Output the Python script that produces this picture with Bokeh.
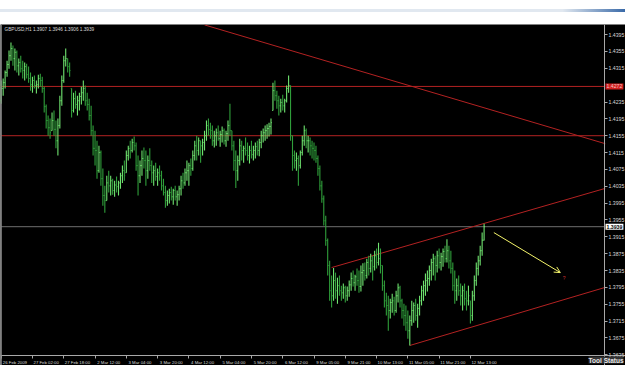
from bokeh.plotting import figure
from bokeh.models import (FixedTicker, Label, Arrow, OpenHead, Range1d, Div,
                          ColumnDataSource, Span, PrintfTickFormatter, LinearAxis)
from bokeh.layouts import column
from bokeh.embed import file_html
from bokeh.resources import INLINE

# ---------------- data (GBPUSD, H1) ----------------
SYMBOL_TEXT = "GBPUSD,H1  1.3907  1.3946  1.3906  1.3939"
FIRST_OPEN = 1.4238

high = [
    1.4286, 1.4291, 1.4310, 1.4333, 1.4357, 1.4376, 1.4369, 1.4362, 1.4357, 1.4338,
    1.4345, 1.4333, 1.4329, 1.4326, 1.4319, 1.4305, 1.4295, 1.4298, 1.4286, 1.4300,
    1.4302, 1.4295, 1.4271, 1.4229, 1.4203, 1.4196, 1.4210, 1.4215, 1.4191, 1.4196,
    1.4250, 1.4298, 1.4345, 1.4362, 1.4338, 1.4329, 1.4267, 1.4257, 1.4262, 1.4250,
    1.4257, 1.4271, 1.4286, 1.4274, 1.4257, 1.4243, 1.4226, 1.4179, 1.4167, 1.4143,
    1.4131, 1.4120, 1.4077, 1.4036, 1.4060, 1.4072, 1.4060, 1.4053, 1.4048, 1.4058,
    1.4048, 1.4067, 1.4084, 1.4096, 1.4120, 1.4131, 1.4143, 1.4148, 1.4153, 1.4139,
    1.4108, 1.4096, 1.4120, 1.4127, 1.4120, 1.4108, 1.4125, 1.4096, 1.4084, 1.4091,
    1.4077, 1.4084, 1.4072, 1.4053, 1.4036, 1.4025, 1.4029, 1.4034, 1.4029, 1.4036,
    1.4025, 1.4036, 1.4060, 1.4067, 1.4077, 1.4096, 1.4091, 1.4101, 1.4120, 1.4143,
    1.4155, 1.4151, 1.4143, 1.4148, 1.4167, 1.4191, 1.4196, 1.4186, 1.4179, 1.4167,
    1.4172, 1.4179, 1.4167, 1.4177, 1.4172, 1.4167, 1.4191, 1.4231, 1.4167, 1.4143,
    1.4120, 1.4108, 1.4148, 1.4143, 1.4131, 1.4151, 1.4139, 1.4131, 1.4143, 1.4131,
    1.4139, 1.4143, 1.4148, 1.4167, 1.4172, 1.4179, 1.4182, 1.4186, 1.4196, 1.4281,
    1.4286, 1.4262, 1.4250, 1.4243, 1.4252, 1.4243, 1.4274, 1.4298, 1.4274, 1.4155,
    1.4120, 1.4115, 1.4108, 1.4120, 1.4155, 1.4179, 1.4172, 1.4155, 1.4151, 1.4143,
    1.4139, 1.4131, 1.4108, 1.4084, 1.4048, 1.4013, 1.3965, 1.3911, 1.3858, 1.3823,
    1.3841, 1.3830, 1.3818, 1.3823, 1.3799, 1.3804, 1.3799, 1.3797, 1.3811, 1.3830,
    1.3835, 1.3825, 1.3840, 1.3835, 1.3847, 1.3852, 1.3854, 1.3863, 1.3870, 1.3875,
    1.3870, 1.3882, 1.3887, 1.3901, 1.3887, 1.3847, 1.3811, 1.3782, 1.3775, 1.3768,
    1.3780, 1.3773, 1.3787, 1.3804, 1.3799, 1.3768, 1.3756, 1.3752, 1.3740, 1.3728,
    1.3763, 1.3759, 1.3768, 1.3756, 1.3775, 1.3799, 1.3811, 1.3828, 1.3835, 1.3847,
    1.3863, 1.3875, 1.3870, 1.3882, 1.3887, 1.3877, 1.3887, 1.3894, 1.3909, 1.3894,
    1.3882, 1.3854, 1.3835, 1.3816, 1.3823, 1.3804, 1.3799, 1.3804, 1.3787, 1.3799,
    1.3763, 1.3787, 1.3823, 1.3854, 1.3870, 1.3894, 1.3925, 1.3946,
]
low = [
    1.4231, 1.4250, 1.4267, 1.4295, 1.4314, 1.4333, 1.4321, 1.4310, 1.4305, 1.4298,
    1.4305, 1.4291, 1.4286, 1.4291, 1.4281, 1.4262, 1.4257, 1.4267, 1.4255, 1.4267,
    1.4271, 1.4257, 1.4210, 1.4172, 1.4155, 1.4148, 1.4167, 1.4155, 1.4125, 1.4108,
    1.4172, 1.4226, 1.4281, 1.4319, 1.4305, 1.4295, 1.4198, 1.4210, 1.4219, 1.4203,
    1.4215, 1.4229, 1.4238, 1.4226, 1.4215, 1.4191, 1.4155, 1.4108, 1.4084, 1.4053,
    1.4067, 1.4036, 1.3989, 1.3972, 1.4001, 1.4020, 1.4013, 1.4015, 1.4010, 1.4020,
    1.4013, 1.4029, 1.4043, 1.4048, 1.4067, 1.4096, 1.4101, 1.4115, 1.4120, 1.4072,
    1.4013, 1.4043, 1.4060, 1.4077, 1.4036, 1.4053, 1.4072, 1.4043, 1.4036, 1.4048,
    1.4036, 1.4048, 1.4025, 1.4013, 1.3984, 1.3989, 1.3994, 1.4001, 1.3991, 1.4001,
    1.3989, 1.4001, 1.4013, 1.4029, 1.4036, 1.4048, 1.4036, 1.4060, 1.4072, 1.4096,
    1.4096, 1.4108, 1.4091, 1.4108, 1.4120, 1.4143, 1.4155, 1.4148, 1.4131, 1.4127,
    1.4131, 1.4143, 1.4129, 1.4139, 1.4134, 1.4129, 1.4143, 1.4155, 1.4120, 1.4072,
    1.4031, 1.4048, 1.4084, 1.4096, 1.4091, 1.4108, 1.4096, 1.4089, 1.4101, 1.4096,
    1.4101, 1.4108, 1.4106, 1.4125, 1.4139, 1.4143, 1.4148, 1.4153, 1.4158, 1.4215,
    1.4238, 1.4219, 1.4203, 1.4210, 1.4215, 1.4210, 1.4234, 1.4257, 1.4143, 1.4072,
    1.4077, 1.4072, 1.4036, 1.4077, 1.4108, 1.4131, 1.4125, 1.4115, 1.4108, 1.4101,
    1.4096, 1.4091, 1.4060, 1.4025, 1.3996, 1.3942, 1.3894, 1.3823, 1.3763, 1.3747,
    1.3763, 1.3768, 1.3756, 1.3775, 1.3763, 1.3768, 1.3759, 1.3763, 1.3773, 1.3787,
    1.3797, 1.3787, 1.3799, 1.3782, 1.3785, 1.3799, 1.3811, 1.3816, 1.3823, 1.3830,
    1.3811, 1.3835, 1.3840, 1.3847, 1.3828, 1.3787, 1.3747, 1.3728, 1.3692, 1.3721,
    1.3735, 1.3728, 1.3735, 1.3759, 1.3747, 1.3721, 1.3704, 1.3692, 1.3673, 1.3657,
    1.3704, 1.3711, 1.3716, 1.3699, 1.3728, 1.3752, 1.3763, 1.3775, 1.3785, 1.3799,
    1.3811, 1.3823, 1.3811, 1.3830, 1.3840, 1.3835, 1.3844, 1.3854, 1.3854, 1.3840,
    1.3828, 1.3787, 1.3756, 1.3763, 1.3775, 1.3752, 1.3740, 1.3752, 1.3740, 1.3752,
    1.3709, 1.3716, 1.3763, 1.3799, 1.3823, 1.3847, 1.3870, 1.3906,
]
close = [
    1.4267, 1.4281, 1.4305, 1.4324, 1.4345, 1.4362, 1.4338, 1.4353, 1.4321, 1.4329,
    1.4314, 1.4310, 1.4319, 1.4300, 1.4291, 1.4276, 1.4286, 1.4274, 1.4276, 1.4291,
    1.4286, 1.4267, 1.4224, 1.4191, 1.4174, 1.4162, 1.4191, 1.4170, 1.4143, 1.4179,
    1.4238, 1.4286, 1.4333, 1.4338, 1.4319, 1.4310, 1.4215, 1.4243, 1.4229, 1.4238,
    1.4248, 1.4257, 1.4267, 1.4238, 1.4229, 1.4203, 1.4167, 1.4125, 1.4120, 1.4072,
    1.4115, 1.4053, 1.4013, 1.4001, 1.4043, 1.4036, 1.4048, 1.4025, 1.4038, 1.4034,
    1.4043, 1.4060, 1.4072, 1.4060, 1.4108, 1.4125, 1.4120, 1.4139, 1.4131, 1.4084,
    1.4060, 1.4084, 1.4101, 1.4096, 1.4072, 1.4096, 1.4084, 1.4067, 1.4072, 1.4058,
    1.4067, 1.4060, 1.4036, 1.4020, 1.4001, 1.4013, 1.4020, 1.4010, 1.4025, 1.4010,
    1.4015, 1.4029, 1.4048, 1.4043, 1.4067, 1.4072, 1.4084, 1.4077, 1.4108, 1.4131,
    1.4120, 1.4143, 1.4131, 1.4139, 1.4155, 1.4179, 1.4170, 1.4167, 1.4143, 1.4155,
    1.4162, 1.4148, 1.4158, 1.4167, 1.4143, 1.4160, 1.4179, 1.4167, 1.4131, 1.4096,
    1.4072, 1.4096, 1.4131, 1.4120, 1.4125, 1.4120, 1.4108, 1.4120, 1.4110, 1.4120,
    1.4129, 1.4120, 1.4139, 1.4155, 1.4162, 1.4167, 1.4172, 1.4177, 1.4186, 1.4262,
    1.4250, 1.4238, 1.4226, 1.4234, 1.4226, 1.4238, 1.4267, 1.4274, 1.4155, 1.4108,
    1.4096, 1.4101, 1.4084, 1.4115, 1.4143, 1.4167, 1.4143, 1.4143, 1.4131, 1.4125,
    1.4120, 1.4101, 1.4077, 1.4036, 1.4005, 1.3953, 1.3906, 1.3847, 1.3787, 1.3775,
    1.3811, 1.3787, 1.3799, 1.3787, 1.3782, 1.3794, 1.3775, 1.3787, 1.3801, 1.3816,
    1.3806, 1.3820, 1.3811, 1.3797, 1.3830, 1.3835, 1.3823, 1.3854, 1.3840, 1.3858,
    1.3844, 1.3870, 1.3854, 1.3863, 1.3847, 1.3799, 1.3763, 1.3752, 1.3740, 1.3759,
    1.3763, 1.3740, 1.3775, 1.3794, 1.3763, 1.3740, 1.3728, 1.3711, 1.3692, 1.3716,
    1.3740, 1.3752, 1.3728, 1.3745, 1.3763, 1.3787, 1.3799, 1.3811, 1.3816, 1.3835,
    1.3854, 1.3863, 1.3847, 1.3870, 1.3854, 1.3868, 1.3880, 1.3863, 1.3882, 1.3858,
    1.3840, 1.3799, 1.3787, 1.3799, 1.3787, 1.3775, 1.3787, 1.3768, 1.3763, 1.3775,
    1.3728, 1.3775, 1.3811, 1.3840, 1.3858, 1.3882, 1.3907, 1.3939,
]

# price scale ticks (right axis)
price_ticks = [1.4395, 1.4355, 1.4315, 1.4235, 1.4195, 1.4155, 1.4115, 1.4075,
               1.4035, 1.3995, 1.3955, 1.3915, 1.3875, 1.3835, 1.3795, 1.3755,
               1.3715, 1.3675, 1.3635]

# time scale: bar index of each label and its text
time_tick_bars = [0, 16, 32, 48, 64, 80, 96, 112, 128, 144, 160, 176, 192, 208, 224, 240]
time_labels = ["26 Feb 2009", "27 Feb 02:00", "27 Feb 18:00", "2 Mar 12:00",
               "3 Mar 04:00", "3 Mar 20:00", "4 Mar 12:00", "5 Mar 04:00",
               "5 Mar 20:00", "6 Mar 12:00", "9 Mar 05:00", "9 Mar 21:00",
               "10 Mar 13:00", "11 Mar 05:00", "11 Mar 21:00", "12 Mar 13:00"]

# drawn objects
level_lines = [1.4272, 1.4155]
level_label = "1.4272"
trend_down_x = [104, 309]
trend_down_y = [1.4418, 1.4136]
channel_top_x = [169, 309]
channel_top_y = [1.3842, 1.4030]
channel_bot_x = [209, 309]
channel_bot_y = [1.3657, 1.3795]
arrow_x = [252, 286]
arrow_y = [1.3925, 1.3830]
mark_x, mark_y = 288, 1.3818

# ---------------- styling ----------------
GREEN_UP = "#6fe36f"
GREEN_DN = "#2f9e3a"
RED = "#b32222"
YELLOW = "#f4f46a"
AXIS_COL = "#a8a8a8"
TXT = "#d8d8d8"
FONT = "Liberation Sans"

n = len(close)
idx = list(range(n))
opens = [FIRST_OPEN] + close[:-1]
opens = [min(max(o, l), h) for o, l, h in zip(opens, low, high)]
colors = [GREEN_UP if c >= o else GREEN_DN for o, c in zip(opens, close)]

src = ColumnDataSource(dict(
    x=idx, xl=[i - 0.42 for i in idx], xr=[i + 0.42 for i in idx],
    high=high, low=low, open=opens, close=close, color=colors))

# frame covers the whole chart window; the price / time scales sit at fixed places
X_START, X_AXIS, X_END = -0.36, 308.6, 319.33
Y_START, Y_AXIS, Y_END = 1.36095, 1.36332, 1.44190

p = figure(width=625, height=341,
           x_range=Range1d(X_START, X_END), y_range=Range1d(Y_START, Y_END),
           output_backend="svg", toolbar_location=None,
           x_axis_location=None, y_axis_location=None,
           min_border_left=0, min_border_top=0, min_border_right=0, min_border_bottom=0,
           background_fill_color="black", border_fill_color="black",
           outline_line_color=None)
p.xgrid.visible = False
p.ygrid.visible = False

# right price axis
ya = LinearAxis(fixed_location=X_AXIS)
ya.ticker = FixedTicker(ticks=price_ticks)
ya.formatter = PrintfTickFormatter(format="%.4f")
ya.axis_line_color = AXIS_COL
ya.major_tick_line_color = AXIS_COL
ya.major_tick_out = 3
ya.major_tick_in = 0
ya.minor_tick_line_color = None
ya.major_label_standoff = 1
ya.major_label_text_font = FONT
ya.major_label_text_font_size = "5.2px"
ya.major_label_text_color = TXT
p.add_layout(ya, "right")

# bottom time axis (labels sit to the right of their tick, as in MT4)
SHIFT = 7
xa = LinearAxis(fixed_location=Y_AXIS)
xa.ticker = FixedTicker(ticks=[b + SHIFT for b in time_tick_bars], minor_ticks=time_tick_bars)
xa.major_label_overrides = {b + SHIFT: t for b, t in zip(time_tick_bars, time_labels)}
xa.axis_line_color = AXIS_COL
xa.major_tick_line_color = None
xa.major_tick_out = 0
xa.major_tick_in = 0
xa.minor_tick_line_color = AXIS_COL
xa.minor_tick_out = 3
xa.minor_tick_in = 0
xa.major_label_standoff = 1
xa.major_label_text_font = FONT
xa.major_label_text_font_size = "4.3px"
xa.major_label_text_color = TXT
p.add_layout(xa, "below")

# left border of the chart window
p.add_layout(Span(location=X_START + 0.4, dimension="height", line_color="#8c8c8c", line_width=1))

# horizontal levels and bid line (stop at the price scale)
p.segment(x0=[X_START] * len(level_lines), y0=level_lines,
          x1=[X_AXIS] * len(level_lines), y1=level_lines, line_color=RED, line_width=1)
p.segment(x0=[X_START], y0=[close[-1]], x1=[X_AXIS], y1=[close[-1]],
          line_color="#6e6e6e", line_width=1)

# trend lines
p.line(trend_down_x, trend_down_y, line_color=RED, line_width=1)
p.line(channel_top_x, channel_top_y, line_color=RED, line_width=1)
p.line(channel_bot_x, channel_bot_y, line_color=RED, line_width=1)

# bars
p.segment(x0="x", y0="low", x1="x", y1="high", line_color="color", line_width=1.1, source=src)
p.segment(x0="xl", y0="open", x1="x", y1="open", line_color="color", line_width=1, source=src)
p.segment(x0="x", y0="close", x1="xr", y1="close", line_color="color", line_width=1, source=src)

# arrow + mark
p.add_layout(Arrow(end=OpenHead(size=6, line_color=YELLOW, line_width=1),
                   x_start=arrow_x[0], y_start=arrow_y[0], x_end=arrow_x[1], y_end=arrow_y[1],
                   line_color=YELLOW, line_width=1))
p.add_layout(Label(x=mark_x, y=mark_y, text="?", text_color="#c83030",
                   text_font=FONT, text_font_size="5px", text_align="center",
                   text_baseline="middle"))

# header
p.add_layout(Label(x=X_START, y=Y_END, x_offset=4, y_offset=-2, text=SYMBOL_TEXT,
                   text_color=TXT, text_font=FONT, text_font_size="4.7px",
                   text_baseline="top"))

# price tags on the scale
p.add_layout(Label(x=X_AXIS, y=level_lines[0], x_offset=1, text=level_label,
                   text_color="#f2c4c4", text_font=FONT, text_font_size="5.2px",
                   text_baseline="middle", background_fill_color="#d01e1e", padding=1))
p.add_layout(Label(x=X_AXIS, y=close[-1], x_offset=1, text="%.4f" % close[-1],
                   text_color="black", text_font=FONT, text_font_size="5.2px",
                   text_font_style="bold", text_baseline="middle",
                   background_fill_color="white", padding=1))

# "Tool Status" tab
p.add_layout(Label(x=X_END, y=Y_AXIS, x_offset=-2, y_offset=-1, text="Tool Status",
                   text_color="#e6e6e6", text_font=FONT, text_font_size="6.5px",
                   text_font_style="bold", text_baseline="top", text_align="right",
                   background_fill_color="#333333", padding=0))

top = Div(text='<div style="width:625px;height:3px;background:linear-gradient(to right,#e1e8f0 0%,#e1e8f0 90%,#3a6aa8 100%)"></div>',
          width=625, height=24, styles={"background-color": "white", "margin": "0", "padding": "0"})

layout = column(top, p, spacing=0)
open("out.html", "w").write(file_html(layout, INLINE))
